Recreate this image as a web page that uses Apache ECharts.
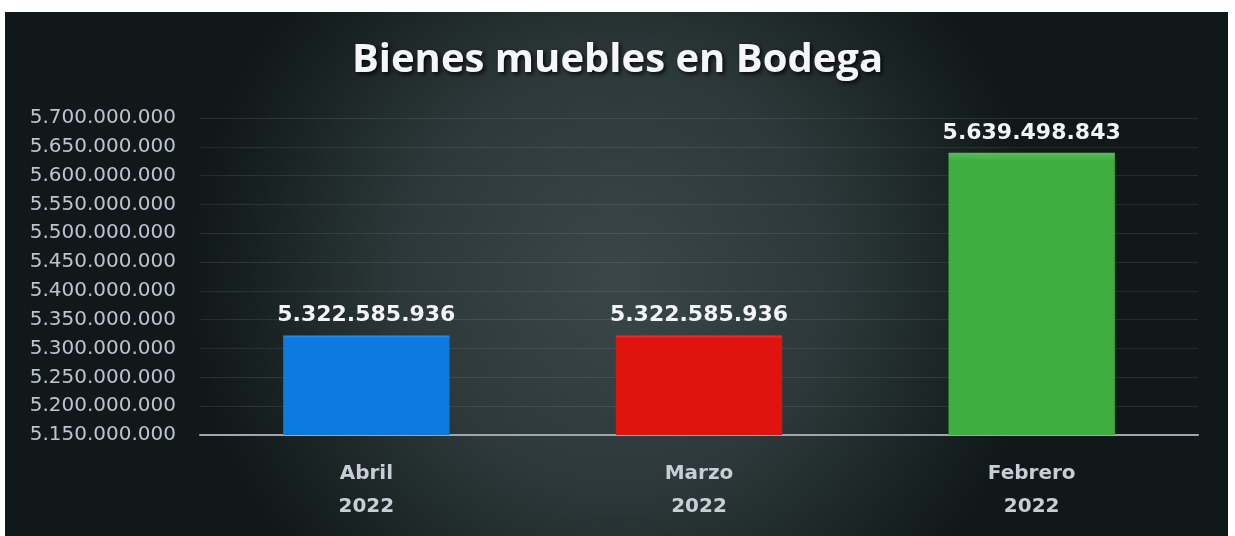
<!DOCTYPE html>
<html>
<head>
<meta charset="utf-8">
<script src="https://cdn.jsdelivr.net/npm/echarts@6/dist/echarts.min.js"></script>
<style>
html,body{margin:0;padding:0;background:#ffffff;}
#chart{width:1235px;height:536px;}
</style>
</head>
<body>
<div id="chart"></div>
<script>
const categories = ['Abril\n2022', 'Marzo\n2022', 'Febrero\n2022'];
const values = [5322585936, 5322585936, 5639498843];
const barColors = ['#0c7ae0', '#e0140f', '#3fae40'];
const yMin = 5150000000;
const yMax = 5700000000;
const yStep = 50000000;

function fmt(v) {
  return String(Math.round(v)).replace(/\B(?=(\d{3})+(?!\d))/g, '.');
}

const chart = echarts.init(document.getElementById('chart'));
chart.setOption({
  backgroundColor: '#ffffff',
  graphic: [{
    type: 'rect',
    z: -10,
    shape: {x: 5, y: 12, width: 1223, height: 530},
    style: {
      fill: {
        type: 'radial', x: 0.5, y: 0.5, r: 0.8,
        colorStops: [
          {offset: 0, color: '#3a4748'},
          {offset: 0.5, color: '#2c3839'},
          {offset: 1, color: '#101819'}
        ]
      }
    }
  }],
  title: {
    text: 'Bienes muebles en Bodega',
    left: 'center',
    top: 36,
    textStyle: {
      fontFamily: 'Open Sans',
      fontWeight: 'bold',
      fontSize: 40,
      color: '#f4f6fa',
      textShadowColor: 'rgba(0,0,0,0.85)',
      textShadowBlur: 4,
      textShadowOffsetX: 2,
      textShadowOffsetY: 2
    }
  },
  grid: {left: 200, right: 37, top: 118, bottom: 101, containLabel: false},
  xAxis: {
    type: 'category',
    data: categories,
    axisLine: {lineStyle: {color: '#a0a6b0', width: 2}},
    axisTick: {show: false},
    axisLabel: {
      color: '#c9cdd8',
      fontFamily: 'DejaVu Sans',
      fontWeight: 'bold',
      fontSize: 20,
      lineHeight: 33,
      margin: 22
    }
  },
  yAxis: {
    type: 'value',
    min: yMin,
    max: yMax,
    interval: yStep,
    axisLine: {show: false},
    axisTick: {show: false},
    splitLine: {lineStyle: {color: 'rgba(255,255,255,0.09)', width: 1}},
    axisLabel: {
      color: '#bcc3d3',
      fontFamily: 'DejaVu Sans',
      fontSize: 20,
      margin: 24,
      formatter: fmt
    }
  },
  series: [{
    type: 'bar',
    barWidth: '50%',
    data: values.map((v, i) => ({
      value: v,
      itemStyle: {
        color: {
          type: 'linear', x: 0, y: 0, x2: 0, y2: 1,
          colorStops: [
            {offset: 0, color: echarts.color.lift(barColors[i], 0.15)},
            {offset: 0.03, color: barColors[i]},
            {offset: 1, color: barColors[i]}
          ]
        }
      }
    })),
    label: {
      show: true,
      position: 'top',
      distance: 9,
      color: '#f2f4f8',
      fontFamily: 'DejaVu Sans',
      fontWeight: 'bold',
      fontSize: 22,
      formatter: p => fmt(p.value)
    }
  }]
});
</script>
</body>
</html>
